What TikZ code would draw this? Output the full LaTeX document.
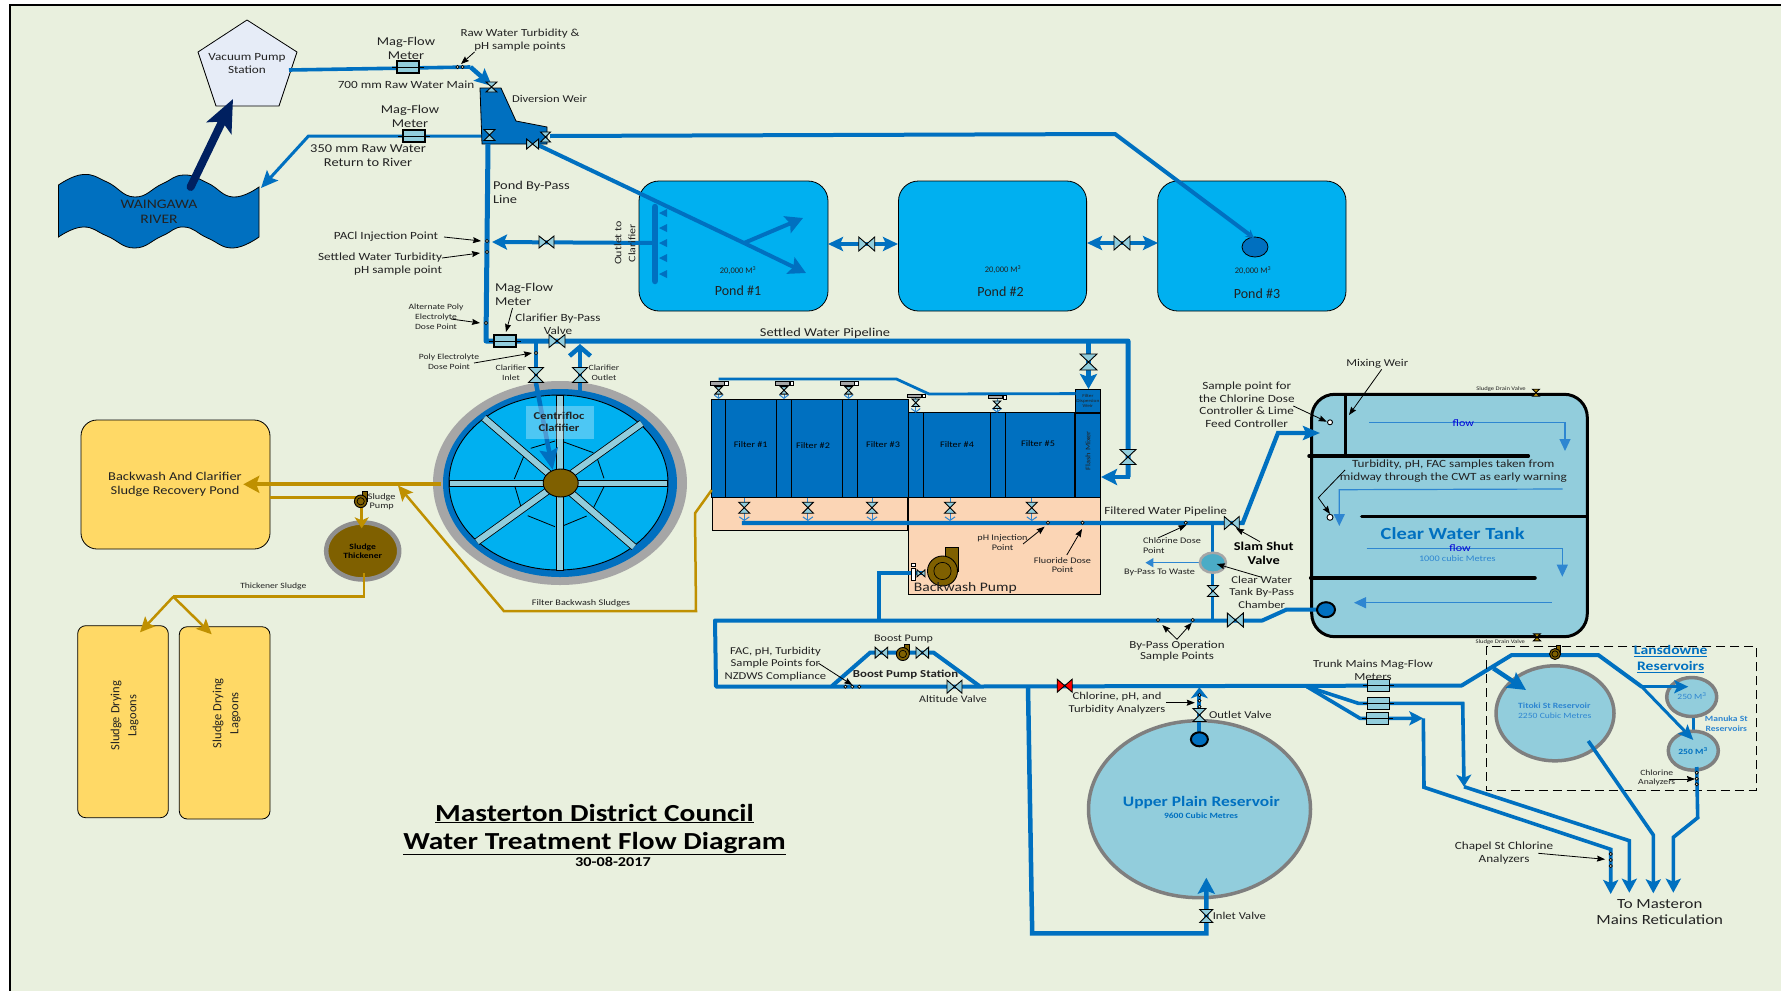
\documentclass[tikz,border=0pt]{standalone}
\usepackage{fontspec}
\setmainfont[FakeStretch=1.2]{Carlito}
\newfontfamily\nar{Carlito}
\usetikzlibrary{arrows.meta,shapes.geometric,calc}
\definecolor{bg}{HTML}{E9F0DE}
\definecolor{pipeblue}{HTML}{0070C0}
\definecolor{lightpipe}{HTML}{2E86D1}
\definecolor{sky}{HTML}{00B0F0}
\definecolor{vfill}{HTML}{92CDDC}
\definecolor{peach}{HTML}{FBD5B5}
\definecolor{gold}{HTML}{BF9000}
\definecolor{brown}{HTML}{7F6000}
\definecolor{yel}{HTML}{FFD966}
\definecolor{greyring}{HTML}{A6A6A6}
\definecolor{dgrey}{HTML}{7F7F7F}
\definecolor{navy}{HTML}{002060}
\definecolor{ink}{HTML}{222222}
\definecolor{pentafill}{HTML}{E6ECF7}
\definecolor{chamber}{HTML}{4BACC6}
\tikzset{
 txt/.style={inner sep=0pt,outer sep=0pt,align=center,text=ink},
 bold/.style={node font=\bfseries},
 nar/.style={node font=\nar},
 pipe/.style={draw=pipeblue,line width=#1pt,line join=miter},
 pipe/.default=4,
 sludge/.style={draw=gold,line width=#1pt},
 sludge/.default=2.5,
 ah/.style 2 args={-{Stealth[length=#1pt,width=#2pt,inset=3pt]}},
 pointerline/.style={draw=black,line width=.8pt,-{Stealth[length=8pt,width=6pt,inset=1pt]}},
 flowline/.style={draw=lightpipe,line width=1.2pt,-{Stealth[length=12pt,width=11pt,inset=0pt]}},
 valvebox/.style={inner sep=0pt,outer sep=0pt},
 meterbox/.style={draw=black,fill=vfill,line width=1.3pt,minimum width=22pt,minimum height=12pt,inner sep=0pt},
 sdot/.style={circle,draw=black,fill=bg,line width=.7pt,minimum size=3.2pt,inner sep=0pt},
 pond/.style={draw=black,fill=sky,line width=.8pt,rounded corners=20pt},
 ybox/.style={draw=black,fill=yel,line width=.8pt},
 fbox/.style={draw=black,fill=pipeblue,line width=1pt},
 spoke/.style={draw=black,fill=vfill,line width=.8pt},
}
\newcommand\lbl[7][]{\node[txt,font=\fontsize{#5}{#6}\selectfont,#1] (#2) at (#3,#4) {#7};}
\newcommand\pointer[5]{\coordinate (#1a) at (#2,#3); \coordinate (#1b) at (#4,#5); \draw[pointerline] (#1a)--(#1b);}
\newcommand\vh[6][vfill]{\node[valvebox,minimum width=#5pt,minimum height=#6pt] (#2) at (#3,#4) {};
 \draw[black,line width=.9pt,fill=#1] (#2.north west)--(#2.south east)--(#2.north east)--(#2.south west)--cycle;}
\newcommand\vv[6][vfill]{\node[valvebox,minimum width=#5pt,minimum height=#6pt] (#2) at (#3,#4) {};
 \draw[black,line width=.9pt,fill=#1] (#2.north west)--(#2.south east)--(#2.south west)--(#2.north east)--cycle;}
\newcommand\meter[3]{\node[meterbox] (#1) at (#2,#3) {};
 \draw[black,line width=1pt] ([xshift=-4pt]#1.west)--([xshift=4pt]#1.east);}
\newcommand\sd[3]{\node[sdot] (#1) at (#2,#3) {};}
\newcommand\pump[4]{\begin{scope}[shift={(#2,#3)}]
 \fill[brown,draw=black,line width=.8pt] ({#4*.2},{-#4*1.55}) rectangle ({#4*1.05},0);
 \node[circle,draw=black,fill=brown,line width=.9pt,minimum size=#4*2pt,inner sep=0pt] (#1) at (0,0) {};
 \node[circle,draw=black,line width=.7pt,minimum size=#4*1.15pt,inner sep=0pt] (#1i) at (0,0) {};
 \end{scope}}
\newcommand\actuator[5]{%
 \coordinate (#1t) at (#2,#4); \coordinate (#1b) at (#2,#5);
 \draw[lightpipe,line width=1pt,-{Straight Barb[length=3.5pt,width=9pt]}] (#1t)--(#1b);
 \vv{#1}{#2}{#3}{7.5}{7.5}
 \node[draw=black,fill=greyring,line width=.7pt,minimum width=14pt,minimum height=3.4pt,inner sep=0pt] (#1a) at ({#2-1.5},#4) {};
 \node[draw=black,fill=white,line width=.6pt,minimum size=3.6pt,inner sep=0pt,anchor=west] (#1s) at (#1a.east) {};}
\newcommand\bottomvalve[3]{%
 \coordinate (#1t) at (#2,497.5); \coordinate (#1b) at (#2,521);
 \draw[lightpipe,line width=1pt,-{Straight Barb[length=3.5pt,width=10pt]}] (#1t)--(#1b);
 \vv{#1}{#2}{#3}{11}{11}}
\begin{document}
\begin{tikzpicture}[x=1pt,y=-1pt]
\useasboundingbox (0,0) rectangle (1781,991);
\fill[white] (0,0) rectangle (1781,991);
\fill[bg] (10,5) rectangle (1781,991);
\draw[black,line width=2pt] (1781,5)--(10,5)--(10,991);

% ---- River and pump station
\draw[fill=pipeblue,draw=black,line width=.8pt]
 plot[smooth,tension=.8] coordinates {(58.5,185) (83,174.5) (107,182) (134.5,197) (162,184) (184,175) (207.6,183) (233,197) (259,187)}
 -- plot[smooth,tension=.8] coordinates {(259,237) (233,248) (207.6,238) (184,227) (162,236) (134.5,248) (107,236) (83,227) (58.5,237)} -- cycle;
\lbl{river}{159}{211.5}{13}{15}{WAINGAWA\\RIVER}
\draw[draw=black,fill=pentafill,line width=.8pt] (247,20)--(297,52)--(279,106)--(216,106)--(198,52)--cycle;
\lbl{vps}{247}{64}{11}{13}{Vacuum Pump\\Station}
\path (190.6,187) coordinate (riverup) (233,99) coordinate (vpsin);
\draw[navy,line width=8pt,line cap=round,-{Stealth[length=32pt,width=27pt,inset=7pt]}] (riverup)--(vpsin);

% ---- Ponds
\draw[pond] (639,181) rectangle (828,311);
\draw[pond] (898.5,181) rectangle (1086.6,311);
\draw[pond] (1157.7,181) rectangle (1346,311);
\node[draw=black,fill=pipeblue,ellipse,line width=.8pt,minimum width=26pt,minimum height=20pt,inner sep=0pt] (p3in) at (1255,247) {};
\lbl[nar]{pondAv}{738}{271}{8.5}{10}{20,000 M\textsuperscript{3}}
\lbl[nar]{pondBv}{1003}{270}{8.5}{10}{20,000 M\textsuperscript{3}}
\lbl[nar]{pondCv}{1253}{271}{8.5}{10}{20,000 M\textsuperscript{3}}
\lbl[nar]{pondA}{738}{291}{14}{18}{Pond \#1}
\lbl[nar]{pondB}{1000.5}{292}{14}{18}{Pond \#2}
\lbl[nar]{pondC}{1257}{294}{14}{18}{Pond \#3}

% ---- Raw water pipes
\path (289,70) coordinate (raw0) (470.5,67) coordinate (raw1) (492,86) coordinate (raw2);
\draw[pipe=3.6] (raw0)--(raw1);
\draw[pipe=4.5,ah={17}{16}] (raw1)--(raw2);
\path (482,136) coordinate (ret0) (308.5,136) coordinate (ret1) (261,188) coordinate (ret2);
\draw[pipe=3,ah={17}{15}] (ret0)--(ret1)--(ret2);
\draw[fill=pipeblue,draw=black,line width=.8pt] (480,88)--(501,88)--(516,121)--(547,127)--(547,144)--(482,144)--cycle;
\path (550,136) coordinate (p3a) (1115,134) coordinate (p3b) (1254,238) coordinate (p3c);
\draw[pipe=4,ah={8}{9}] (p3a)--(p3b)--(p3c);
\path (538,145) coordinate (p1a) (744,243) coordinate (p1j) (806,273) coordinate (p1b) (803,218) coordinate (p1c);
\draw[pipe=4,ah={17}{18}] (p1a)--(p1j)--(p1b);
\draw[pipe=4,ah={17}{18}] (p1j)--(p1c);

% ---- Pond by-pass and settled water line
\path (488,144) coordinate (by0) (486,341) coordinate (by1) (1128,341) coordinate (by2) (1128,477) coordinate (by3) (1101,477) coordinate (by4);
\draw[pipe=5,line join=round] (by0)--(by1)--(by2)--(by3);
\draw[pipe=4,ah={16}{16}] (by2)--(by3)--(by4);
\path (1088.5,341) coordinate (fw0) (1088.5,389) coordinate (fw1);
\draw[pipe=4.5,ah={15}{17}] (fw0)--(fw1);
\path (655,243) coordinate (oc0) (492,242) coordinate (oc1);
\draw[pipe=4,ah={15}{15}] (oc0)--(oc1);
\path (655,207) coordinate (hd0) (655,281) coordinate (hd1);
\draw[pipeblue,line width=6.5pt,line cap=round] (hd0)--(hd1);
\foreach \yy/\nn in {213/a,228/b,243/c,258/d,274/e}{
 \fill[pipeblue] (659,\yy)--(667,\yy-4)--(667,\yy+4)--cycle;}
\lbl[rotate=90]{outlet}{625}{243}{10}{14}{Outlet to\\Clarifier}

% pond links
\path (828,244) coordinate (l1) (898,244) coordinate (l2) (1087,243) coordinate (l3) (1158,243) coordinate (l4);
\draw[pipe=4,{Stealth[length=15pt,width=14pt,inset=3pt]}-{Stealth[length=15pt,width=14pt,inset=3pt]}] (l1)--(l2);
\draw[pipe=4,{Stealth[length=15pt,width=14pt,inset=3pt]}-{Stealth[length=15pt,width=14pt,inset=3pt]}] (l3)--(l4);
\vh{vl1}{866.7}{244}{16}{14}
\vh{vl2}{1122}{243}{16}{14}

% ---- Clarifier
\node[ellipse,fill=greyring,minimum width=254pt,minimum height=204pt,inner sep=0pt] (clarOut) at (560,483) {};
\node[ellipse,fill=pipeblue,minimum width=234pt,minimum height=188pt,inner sep=0pt] (clarRing) at (560,483) {};
\node[ellipse,draw=black,fill=sky,line width=.9pt,minimum width=219pt,minimum height=175pt,inner sep=0pt] (clar) at (558.5,482.5) {};
\foreach \a/\b/\c/\d in {530.7/448.3/555/441, 563/441.7/593.3/452.7, 596.7/456.7/604/478.3, 604/486.7/592.7/509.3, 586.7/516/563.3/525.7, 555/526.7/527.7/515.7, 521.7/509.3/515/486.7, 514.3/479/525/453.3}
 \draw[black,line width=.8pt] (\a,\b)--(\c,\d);
\path (484,418) coordinate (sp1a) (634,547) coordinate (sp1b) (641.7,423.3) coordinate (sp2a) (477,541.7) coordinate (sp2b);
\draw[black,line width=7.5pt] (sp1a)--(sp1b); \draw[vfill,line width=5.9pt] (sp1a)--(sp1b);
\draw[black,line width=7.5pt] (sp2a)--(sp2b); \draw[vfill,line width=5.9pt] (sp2a)--(sp2b);
\draw[spoke] (556,395.5) rectangle (563,570);
\draw[spoke] (449.5,480) rectangle (667,486);
\node[ellipse,draw=black,fill=brown,line width=.9pt,minimum width=35pt,minimum height=28pt,inner sep=0pt] (hub) at (560.7,483) {};
\path (536,341) coordinate (ci0) (536,383) coordinate (ci1) (552.7,470) coordinate (ci2);
\draw[pipe=4.5] (ci0)--(ci1);
\draw[pipe=4.5,ah={21}{18}] (ci1)--(ci2);
\node[fill=white,opacity=.3,minimum width=68pt,minimum height=33pt,inner sep=0pt] (clarLabelBg) at (560,422.5) {};
\lbl[bold]{clarTxt}{559}{422}{10.5}{12}{Centrifloc\\Clafifier}
\path (580,392) coordinate (co0) (580,344) coordinate (co1);
\draw[pipe=4.5,-{Straight Barb[length=9pt,width=21pt]}] (co0)--(co1);
\vv{vci}{536}{375}{15}{15}
\vv{vco}{580}{375}{15}{15}
\vh{vbp}{557}{341}{16}{13}

% ---- Weir valves and meters
\vv{vw1}{491.5}{87}{11}{10}
\vv{vw2}{489.5}{135}{11}{11}
\vh{vw3}{532.6}{144}{12}{10}
\vv{vw4}{545.6}{137}{10}{10}
\meter{m1}{408}{67}
\meter{m2}{414}{136}
\meter{m3}{505}{341}
\vh{vout}{546.5}{242}{15}{12}
\vv{vset}{1128}{457}{16}{15}
\vv{vfw}{1088.5}{362}{17}{16}
\sd{d1}{457.5}{67} \sd{d2}{462.5}{67} \sd{d3}{487}{241} \sd{d4}{487}{252} \sd{d5}{486}{323} \sd{d6}{536}{353}

% ---- Filters
\draw[draw=black,fill=peach,line width=1pt] (712.5,497.7) rectangle (907,530);
\draw[draw=black,fill=peach,line width=1pt] (908,497.7) rectangle (1100.7,594.3);
\foreach \l/\r/\t/\n in {711.4/725.7/399/a,725.7/776.4/399/b,776.4/791/399/c,791/842.5/399/d,842.5/857/399/e,857/908/399/f,908/923/412.7/g,923/990.7/412.7/h,990.7/1005.7/412.7/i,1005.7/1074.3/412.7/j,1075/1100.7/413/k}
 \draw[fbox] (\l,\t) rectangle (\r,497.5);
\draw[fbox] (1075,389.3) rectangle (1100.7,412.7);
\lbl{fDisp}{1087.9}{401.3}{4.5}{5}{Filter\\Dispersion\\Weir}
\lbl[rotate=90]{fFlash}{1088}{450.7}{7}{8}{Flash Mixer}
\lbl[text=black]{f1}{750.7}{445}{8.5}{10}{Filter \#1}
\lbl[text=black]{f2}{813}{446}{8.5}{10}{Filter \#2}
\lbl[text=black]{f3}{883}{445}{8.5}{10}{Filter \#3}
\lbl[text=black]{f4}{957}{445}{8.5}{10}{Filter \#4}
\lbl[text=black]{f5}{1038}{444}{8.5}{10}{Filter \#5}
\path (718.6,379) coordinate (ft0) (896.4,379) coordinate (ft1) (929,394) coordinate (ft2) (1075.7,393.6) coordinate (ft3);
\draw[pipe=2.8] (ft0)--(ft1)--(ft2)--(ft3);
\actuator{ac1}{718.6}{390.3}{383.5}{399}
\actuator{ac2}{784}{390.3}{383.5}{399}
\actuator{ac3}{848.6}{390.3}{383.5}{399}
\actuator{ac4}{915.7}{402.7}{395.7}{412.7}
\actuator{ac5}{997}{404.7}{397}{412.7}
\bottomvalve{bv1}{744.3}{507.7}
\bottomvalve{bv2}{807.9}{507.7}
\bottomvalve{bv3}{872}{507.7}
\bottomvalve{bv4}{950}{507.7}
\bottomvalve{bv5}{1031.8}{507.7}

% ---- Filtered water to tank
\draw[draw=black,fill=vfill,line width=3pt,rounded corners=23pt] (1311.7,394.3) rectangle (1587.3,636.7);
\path (741.8,523) coordinate (fp0) (1242.7,523) coordinate (fp1) (1278,433) coordinate (fp2) (1320,433) coordinate (fp3);
\draw[pipe=4.3,ah={17}{14}] (fp0)--(fp1)--(fp2)--(fp3);
\sd{d7}{1048}{522.7} \sd{d8}{1082.5}{522.7} \sd{d9}{1185.7}{522.7}
\path (1212.9,523) coordinate (cb0) (1212.9,620.7) coordinate (cb1);
\draw[pipe=3] (cb0)--(cb1);
\path (1199,562.7) coordinate (w0) (1145.4,562.7) coordinate (w1);
\draw[draw=lightpipe,line width=1.5pt,-{Stealth[length=8pt,width=9pt,inset=0pt]}] (w0)--(w1);
\node[ellipse,draw=greyring,fill=chamber,line width=2.5pt,minimum width=26pt,minimum height=20pt,inner sep=0pt] (cbc) at (1212.9,562.7) {};
\vv{vcb}{1212.9}{591}{11}{11}
\path (879.3,620.7) coordinate (bp0) (879.3,573.3) coordinate (bp1) (925,573.3) coordinate (bp2);
\draw[pipe=4] (bp0)--(bp1)--(bp2);
\vh{vbw}{921}{573.3}{8}{7}
\node[draw=black,fill=white,line width=.7pt,minimum width=4.3pt,minimum height=11.7pt,inner sep=0pt] (fl1) at (913.5,574) {};
\node[draw=black,fill=white,line width=.7pt,minimum width=4.3pt,minimum height=3.4pt,inner sep=0pt] (fl2) at (913.5,565) {};
\pump{bwp}{942.5}{571}{15}

% main outlet
\path (1326,609.5) coordinate (m0) (1286.7,609.5) coordinate (m00) (1262.3,620.5) coordinate (m1a) (715,620.5) coordinate (m2a) (716,686.5) coordinate (m3a) (979.4,686.5) coordinate (m4a) (1461.7,685.5) coordinate (m5a) (1511.7,655) coordinate (m6a) (1598.3,655) coordinate (m7a) (1641.7,686.7) coordinate (m8a) (1693.3,740) coordinate (m9a);
\draw[pipe=4,line join=round] (m0)--(m00)--(m1a)--(m2a)--(m3a)--(m4a)--(m5a)--(m6a)--(m7a)--(m8a);
\path (1641.7,686.7) coordinate (mn0) (1688.3,686.7) coordinate (mn1);
\node[ellipse,draw=black,fill=pipeblue,line width=2pt,minimum width=18pt,minimum height=15pt,inner sep=0pt] (tankout) at (1326,609.7) {};
\vh{vt}{1235.3}{620}{16}{14}
\sd{d10}{1158}{620} \sd{d11}{1192.7}{620}
\vh{vss}{1231.7}{523}{15}{13}

% boost station
\path (832,686) coordinate (bs0) (870.3,652.5) coordinate (bs1) (933.4,652.5) coordinate (bs2) (979.4,686) coordinate (bs3);
\draw[pipe=4] (bs0)--(bs1)--(bs2)--(bs3);
\vh{vb1}{881.4}{652.7}{12.6}{11}
\vh{vb2}{922.3}{652.7}{12.6}{11}
\pump{bsp}{902.8}{654}{6.5}
\vh{vAlt}{954.5}{686.7}{15}{13}
\vh[red]{vRed}{1064.7}{685.7}{15}{13}
\sd{d12}{845.4}{686.7} \sd{d13}{852.3}{686.7} \sd{d14}{859.2}{686.7}

% Upper plain reservoir
\node[ellipse,draw=dgrey,fill=vfill,line width=3.5pt,minimum width=222pt,minimum height=177pt,inner sep=0pt] (upr) at (1199.5,809.2) {};
\path (1028,687) coordinate (ui0) (1032.2,933.3) coordinate (ui1) (1206.3,933.3) coordinate (ui2) (1206.3,877.7) coordinate (ui3);
\draw[pipe=4.5,ah={16}{17}] (ui0)--(ui1)--(ui2)--(ui3);
\vv{vin}{1206.3}{916}{13}{13}
\path (1199.4,739) coordinate (uo0) (1199.4,687.3) coordinate (uo1);
\draw[pipe=4,ah={11}{17}] (uo0)--(uo1);
\node[ellipse,draw=black,fill=pipeblue,line width=2pt,minimum width=17pt,minimum height=14pt,inner sep=0pt] (uoc) at (1199.4,739.3) {};
\vv{vou}{1199.4}{715}{13}{13}
\sd{d15}{1199.4}{695} \sd{d16}{1199.4}{700.7} \sd{d17}{1199.4}{706.7}
\lbl[bold,text=pipeblue]{uprT}{1201.3}{802.7}{14.5}{16}{Upper Plain Reservoir}
\lbl[bold,text=pipeblue]{uprV}{1201}{815.7}{8}{10}{9600 Cubic Metres}

% Trunk mains
\path (1306.7,686.5) coordinate (tr0) (1358.3,703.3) coordinate (tr1) (1462.7,703.3) coordinate (tr2) (1464,786.7) coordinate (tr3) (1629.3,840.7) coordinate (tr4) (1629.3,892.7) coordinate (tr5);
\draw[pipe=3.6,ah={12}{15}] (tr0)--(tr1)--(tr2)--(tr3);
\draw[pipe=3.6,ah={14}{15}] (tr3)--(tr4)--(tr5);
\path (1360,718.3) coordinate (ts1) (1423.3,718.3) coordinate (ts2) (1424,787.3) coordinate (ts3) (1610.7,849.3) coordinate (ts4) (1610.7,894) coordinate (ts5);
\draw[pipe=3.6,ah={14}{14}] (tr0)--(ts1)--(ts2);
\draw[pipe=3.6,ah={14}{15}] (ts2)--(ts3)--(ts4)--(ts5);
\meter{mt1}{1378.3}{685.3}
\meter{mt2}{1378.3}{703.3}
\meter{mt3}{1377.3}{718.7}
\sd{d18}{1610.7}{854} \sd{d19}{1610.7}{860} \sd{d20}{1610.7}{866}

% Lansdowne
\draw[black,line width=.9pt,dash pattern=on 9pt off 5pt] (1486.7,646) rectangle (1756,790);
\node[ellipse,draw=dgrey,fill=vfill,line width=3.5pt,minimum width=118pt,minimum height=95pt,inner sep=0pt] (tit) at (1555,713.3) {};
\path (1493.3,668.3) coordinate (ti0) (1526,690) coordinate (ti1);
\draw[pipe=4.5,ah={18}{18}] (ti0)--(ti1);
\path (1588.3,741) coordinate (to0) (1653.3,835) coordinate (to1) (1653.3,893.3) coordinate (to2);
\draw[pipe=3.6,ah={14}{15}] (to0)--(to1)--(to2);
\path (1693.3,717) coordinate (mk0) (1693.3,730) coordinate (mk1);
\draw[pipe=2.5] (mk0)--(mk1);
\node[ellipse,draw=dgrey,fill=vfill,line width=3.5pt,minimum width=50pt,minimum height=39pt,inner sep=0pt] (mk1c) at (1691.7,697) {};
\node[ellipse,draw=dgrey,fill=vfill,line width=3.5pt,minimum width=50pt,minimum height=39pt,inner sep=0pt] (mk2c) at (1693.3,750.7) {};
\draw[pipe=3,ah={15}{13}] (m8a)--(m9a);
\draw[pipe=3,ah={14}{13}] (mn0)--(mn1);
\path (1696.7,767) coordinate (mo0) (1697.7,817.7) coordinate (mo1) (1673.3,837.3) coordinate (mo2) (1673.3,892.7) coordinate (mo3);
\draw[pipe=3.6,ah={14}{15}] (mo0)--(mo1)--(mo2)--(mo3);
\sd{d21}{1696.7}{772.7} \sd{d22}{1696.7}{778.7} \sd{d23}{1696.7}{784.3}
\pump{lp}{1555}{654}{5.5}
\lbl[bold,text=lightpipe]{titT}{1554.3}{705.7}{8}{10}{Titoki St Reservoir}
\lbl[text=lightpipe]{titV}{1554.7}{715.3}{8}{10}{2250 Cubic Metres}
\lbl[text=lightpipe]{mk1T}{1692}{696}{8}{10}{250 M\textsuperscript{3}}
\lbl[bold,text=pipeblue]{mk2T}{1693}{751}{8}{10}{250 M\textsuperscript{3}}
\lbl[bold,text=lightpipe]{mkN}{1726.3}{723.3}{8}{10}{Manuka St\\Reservoirs}
\lbl[bold,text=pipeblue]{lans}{1670.7}{658.7}{13}{16}{\underline{Lansdowne}\\\underline{Reservoirs}}

% ---- Tank interior
\path (1345,395) coordinate (mw0) (1345,456) coordinate (mw1) (1309,456) coordinate (ba0) (1528.3,456) coordinate (ba1) (1361.7,516.7) coordinate (bb0) (1586.7,516.7) coordinate (bb1) (1310.7,578) coordinate (bc0) (1535,578) coordinate (bc1);
\draw[black,line width=3pt] (mw0)--(mw1);
\draw[black,line width=3.5pt,line cap=round] (ba0)--(ba1);
\draw[black,line width=3.5pt,line cap=round] (bb0)--(bb1);
\draw[black,line width=3.5pt,line cap=round] (bc0)--(bc1);
\path (1369.3,422.7) coordinate (fa0) (1565,422.7) coordinate (fa1) (1565,451) coordinate (fa2);
\draw[flowline] (fa0)--(fa1)--(fa2);
\path (1562.7,489) coordinate (fb0) (1339.3,489.7) coordinate (fb1) (1339.3,526) coordinate (fb2);
\draw[flowline] (fb0)--(fb1)--(fb2);
\path (1366.7,548.3) coordinate (fc0) (1562.3,548.3) coordinate (fc1) (1562.3,576.7) coordinate (fc2);
\draw[flowline] (fc0)--(fc1)--(fc2);
\path (1551.7,602.7) coordinate (fd0) (1354,602.7) coordinate (fd1);
\draw[flowline] (fd0)--(fd1);
\lbl[text=blue!85!black]{flow1}{1463.3}{422.7}{10}{12}{flow}
\lbl[text=blue!85!black]{flow2}{1460}{547.7}{10}{12}{flow}
\lbl[bold,text=pipeblue]{cwtT}{1452.7}{534}{17}{20}{Clear Water Tank}
\lbl[text=lightpipe]{cwtV}{1457.3}{558.3}{8.5}{10}{1000 cubic Metres}
\lbl{cwtS}{1453.3}{471.2}{11}{13}{Turbidity, pH, FAC samples taken from\\midway through the CWT as early warning}
\node[circle,draw=black,fill=white,line width=.9pt,minimum size=5pt,inner sep=0pt] (sA) at (1330,422.3) {};
\node[circle,draw=black,fill=white,line width=.9pt,minimum size=6pt,inner sep=0pt] (sB) at (1330,517.3) {};
\path (1345,470) coordinate (tk0) (1318.3,497.7) coordinate (tk1) (1330,514) coordinate (tk2);
\draw[pointerline] (tk0)--(tk1)--(tk2);
\vv[gold]{vsd1}{1536}{392.7}{7}{7}
\vv[gold]{vsd2}{1537}{637.3}{7}{7}
\lbl{sdl1}{1501}{389}{5.5}{7}{Sludge Drain Valve}
\lbl{sdl2}{1500.3}{642}{5.5}{7}{Sludge Drain Valve}

% ---- Sludge side
\draw[ybox,rounded corners=16pt] (81,420) rectangle (270,549);
\draw[ybox,rounded corners=8pt] (77.7,625.7) rectangle (168.3,817.7);
\draw[ybox,rounded corners=8pt] (179.3,626.7) rectangle (270,819);
\lbl{bwp2}{175}{484.3}{12}{14}{Backwash And Clarifier\\Sludge Recovery Pond}
\lbl[nar,rotate=90]{lagA}{124.5}{715.7}{12.5}{17}{Sludge Drying\\Lagoons}
\lbl[nar,rotate=90]{lagB}{226.7}{713.3}{12.5}{17}{Sludge Drying\\Lagoons}
\path (441,484.3) coordinate (sl0) (243.3,484.3) coordinate (sl1);
\draw[sludge=4,ah={16}{17}] (sl0)--(sl1);
\path (270,497.7) coordinate (sr0) (361.7,497.7) coordinate (sr1) (361.7,528.3) coordinate (sr2);
\draw[sludge=2.5] (sr0)--(sr1);
\node[ellipse,draw=dgrey!60!greyring,fill=brown,line width=4.5pt,minimum width=73pt,minimum height=57pt,inner sep=0pt] (thick) at (362.7,551) {};
\draw[sludge=3,ah={11}{14}] (sr1)--(sr2);
\pump{sp}{360.7}{501.3}{6.3}
\lbl[bold,text=black]{thT}{362.7}{551}{8}{9}{Sludge\\Thickener}
\lbl{spT}{381.7}{501.8}{8.5}{9}{Sludge\\Pump}
\path (364,573.3) coordinate (th0) (364,596.7) coordinate (th1) (173.3,596.7) coordinate (th2) (140,632.3) coordinate (th3) (211.7,634.3) coordinate (th4);
\draw[sludge=2.5] (th0)--(th1)--(th2);
\draw[sludge=2.5,ah={15}{14}] (th2)--(th3);
\draw[sludge=2.5,ah={15}{14}] (th2)--(th4);
\lbl{thS}{273.3}{586.7}{8}{10}{Thickener Sludge}
\path (711.7,490) coordinate (fb10) (695,513.3) coordinate (fb11) (696,611.2) coordinate (fb12) (504,611.2) coordinate (fb13) (398,485.5) coordinate (fb14);
\draw[sludge=2.5,ah={15}{14}] (fb10)--(fb11)--(fb12)--(fb13)--(fb14);
\lbl{fbT}{581}{603.3}{8.5}{10}{Filter Backwash Sludges}

% ---- Labels
\lbl{lbMag1}{406}{48}{12}{14}{Mag-Flow\\Meter}
\lbl{lbRaw}{520}{40.5}{10.8}{13}{Raw Water Turbidity \&\\pH sample points}
\pointer{a1}{474.5}{52}{461}{64}
\lbl{lb700}{406}{85}{11}{13}{700 mm Raw Water Main}
\lbl[anchor=west]{lbDiv}{512}{99}{10.5}{13}{Diversion Weir}
\lbl{lbMag2}{410}{116}{12}{14}{Mag-Flow\\Meter}
\lbl{lb350}{368}{156}{12}{14}{350 mm Raw Water\\Return to River}
\lbl[anchor=west,align=left]{lbPond}{493}{192}{12}{14}{Pond By-Pass\\Line}
\lbl{lbPACl}{386}{237}{11}{12}{PACl Injection Point}
\pointer{a2}{444}{237}{481}{241}
\lbl[anchor=east,align=right]{lbSett}{442}{264.5}{11}{13}{Settled Water Turbidity\\pH sample point}
\pointer{a3}{442}{258}{480}{253}
\lbl[anchor=west,align=left]{lbMag3}{495}{294}{12}{14}{Mag-Flow\\Meter}
\pointer{a4}{512.5}{308}{506}{332}
\lbl{lbClarBy}{558}{324.5}{11}{13}{Clarifier By-Pass\\Valve}
\lbl{lbAlt}{436}{317}{8}{10}{Alternate Poly\\Electrolyte\\Dose Point}
\pointer{a5}{451}{319}{480}{323}
\lbl{lbPoly}{449}{362}{8}{10}{Poly Electrolyte\\Dose Point}
\pointer{a6}{474}{363}{532}{353}
\lbl{lbInl}{511}{372.5}{8}{9.5}{Clarifier\\Inlet}
\lbl{lbOutl}{604}{372.5}{8}{9.5}{Clarifier\\Outlet}
\lbl{lbSet}{825}{333}{12}{13}{Settled Water Pipeline}
\lbl{lbFilt}{1165.7}{511.7}{11}{13}{Filtered Water Pipeline}
\lbl{lbpH}{1002.5}{542.5}{8.5}{9.7}{pH Injection\\Point}
\pointer{a7}{1023}{544}{1044.6}{526.7}
\lbl{lbFl}{1062.5}{564.8}{8.5}{9}{Fluoride Dose\\Point}
\pointer{a8}{1066.8}{555}{1082}{529}
\lbl[anchor=west,align=left]{lbCl}{1143}{545.3}{8.5}{10}{Chlorine Dose\\Point}
\pointer{a9}{1157.9}{538}{1186.4}{525}
\lbl{lbWaste}{1159.6}{572.7}{8.5}{10}{By-Pass To Waste}
\lbl{lbBw}{965.4}{588.3}{13}{16}{Backwash Pump}
\lbl{lbSmp}{1246.7}{404.7}{11}{12.7}{Sample point for\\the Chlorine Dose\\Controller \& Lime\\Feed Controller}
\pointer{a10}{1293.3}{406}{1326.7}{421.7}
\lbl{lbMix}{1377.3}{363.7}{10.5}{12}{Mixing Weir}
\pointer{a11}{1381.7}{369.3}{1349}{415}
\lbl[bold,text=black]{lbSlam}{1263.7}{553.3}{12}{14}{Slam Shut\\Valve}
\pointer{a12}{1260}{541.7}{1236}{528.3}
\lbl{lbCb}{1261.7}{592}{10.5}{12.5}{Clear Water\\Tank By-Pass\\Chamber}
\pointer{a13}{1261.7}{577.3}{1216.7}{564}
\lbl{lbByp}{1177}{651}{10.8}{11.7}{By-Pass Operation\\Sample Points}
\coordinate (a14) at (1177,639.3); \coordinate (a14l) at (1162.3,625); \coordinate (a14r) at (1191.8,622.7);
\draw[pointerline] (a14)--(a14l); \draw[pointerline] (a14)--(a14r);
\lbl{lbBoost}{903.6}{638.7}{10}{12}{Boost Pump}
\lbl[bold]{lbBst}{905.5}{675}{10.7}{12}{Boost Pump Station}
\lbl{lbAltV}{953}{698.7}{10}{12}{Altitude Valve}
\lbl{lbFAC}{775.4}{664}{10.5}{12.5}{FAC, pH, Turbidity\\Sample Points for\\NZDWS Compliance}
\pointer{a15}{818.6}{663.3}{852.3}{685}
\lbl{lbChl}{1117}{703.2}{10.5}{13}{Chlorine, pH, and\\Turbidity Analyzers}
\pointer{a16}{1166}{702.7}{1194.8}{702.7}
\lbl[anchor=west]{lbOV}{1209}{715}{10.5}{12}{Outlet Valve}
\lbl[anchor=west]{lbIV}{1212.8}{916}{10.5}{12}{Inlet Valve}
\lbl{lbTrunk}{1373}{670.2}{10.8}{13}{Trunk Mains Mag-Flow\\Meters}
\lbl{lbChap}{1504}{853.2}{11}{13}{Chapel St Chlorine\\Analyzers}
\pointer{a17}{1538.3}{853.3}{1605}{859.3}
\lbl{lbCA}{1656.7}{778}{8}{9.4}{Chlorine\\Analyzers}
\pointer{a18}{1669.3}{779}{1695}{779}
\lbl{lbTo}{1659.7}{912}{14}{16}{To Masteron\\Mains Reticulation}

% ---- Title
\lbl[bold,text=black]{title}{594.5}{829.5}{24.5}{28}{\underline{Masterton District Council}\\\underline{Water Treatment Flow Diagram}}
\lbl[bold,text=black]{date}{613}{861.7}{13.5}{14}{30-08-2017}
\end{tikzpicture}
\end{document}
